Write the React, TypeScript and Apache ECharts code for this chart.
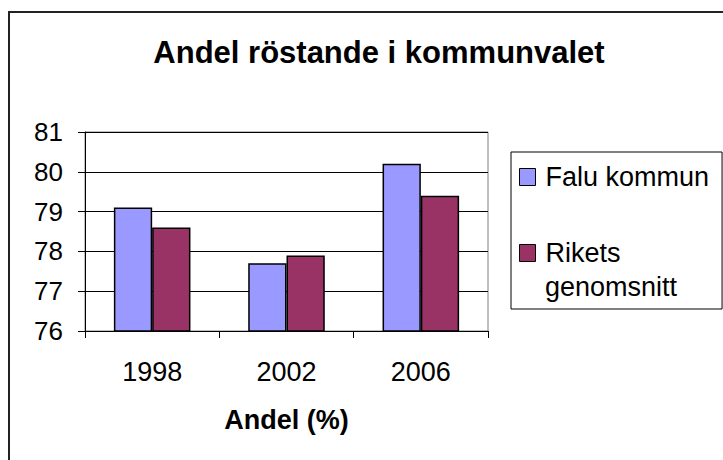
import React, { useEffect, useRef } from "react";
import * as echarts from "echarts";

const categories = ["1998", "2002", "2006"];
const faluKommun = [79.1, 77.7, 80.2];
const riketsGenomsnitt = [78.6, 77.9, 79.4];
const yMin = 76;
const yMax = 81;
const yStep = 1;
const titleText = "Andel röstande i kommunvalet";
const xAxisName = "Andel (%)";
const seriesNames = ["Falu kommun", "Rikets genomsnitt"];
const legendLines = ["Rikets", "genomsnitt"];

const FONT = "'Liberation Sans', Arial, Helvetica, sans-serif";

export default function App() {
  const ref = useRef<HTMLDivElement>(null);
  useEffect(() => {
    if (!ref.current) return;
    const chart = echarts.init(ref.current, null, { renderer: "svg" });
    chart.setOption({
      animation: false,
      backgroundColor: "#fff",
      textStyle: { fontFamily: FONT },
      title: {
        text: titleText,
        left: 374,
        top: 32,
        textAlign: "center",
        textStyle: { fontSize: 31, fontWeight: "bold", color: "#000", fontFamily: FONT },
      },
      graphic: [
        {
          type: "rect",
          shape: { x: 9, y: 12, width: 900, height: 900 },
          style: { fill: "none", stroke: "#222", lineWidth: 2 },
          silent: true,
          z: 100,
        },
        {
          type: "text",
          x: 545,
          y: 287,
          style: {
            text: legendLines[1],
            font: `27px ${FONT}`,
            fill: "#000",
            verticalAlign: "middle",
            align: "left",
          },
          silent: true,
          z: 100,
        },
      ],
      legend: {
        orient: "vertical",
        left: 511,
        top: 152,
        padding: [8, 13, 39, 8],
        borderColor: "#000",
        borderWidth: 1,
        itemWidth: 16,
        itemHeight: 17,
        itemGap: 42,
        icon: "rect",
        itemStyle: { borderColor: "#000", borderWidth: 1 },
        textStyle: {
          fontSize: 27,
          color: "#000",
          fontFamily: FONT,
          lineHeight: 34,
          padding: [0, 0, 0, 5],
        },
        data: [{ name: seriesNames[0] }, { name: seriesNames[1] }],
        formatter: (n: string) => (n === seriesNames[1] ? legendLines[0] : n),
      },
      grid: {
        left: 85,
        right: 235,
        top: 132,
        bottom: 129,
        show: true,
        borderColor: "#808080",
        borderWidth: 1,
        backgroundColor: "transparent",
      },
      xAxis: {
        type: "category",
        data: categories,
        name: xAxisName,
        nameLocation: "middle",
        nameGap: 75,
        nameTextStyle: { fontSize: 27, fontWeight: "bold", color: "#000", fontFamily: FONT },
        axisLine: { show: true, lineStyle: { color: "#000", width: 1 } },
        axisTick: { show: true, length: 7, alignWithLabel: false, interval: 0, lineStyle: { color: "#000" } },
        axisLabel: { fontSize: 27, color: "#000", margin: 27, fontFamily: FONT },
        splitLine: { show: false },
      },
      yAxis: {
        type: "value",
        min: yMin,
        max: yMax,
        interval: yStep,
        axisLine: { show: true, lineStyle: { color: "#000", width: 1 } },
        axisTick: { show: true, length: 7, lineStyle: { color: "#000" } },
        axisLabel: { fontSize: 26, color: "#000", margin: 22, fontFamily: FONT },
        splitLine: { show: true, lineStyle: { color: "#000", width: 1 } },
      },
      series: [
        {
          name: seriesNames[0],
          type: "bar",
          data: faluKommun,
          barGap: "0%",
          barCategoryGap: "43%",
          itemStyle: { color: "#9999FF", borderColor: "#000", borderWidth: 1.5 },
        },
        {
          name: seriesNames[1],
          type: "bar",
          data: riketsGenomsnitt,
          barGap: "0%",
          barCategoryGap: "43%",
          itemStyle: { color: "#993366", borderColor: "#000", borderWidth: 1.5 },
        },
      ],
    });
    return () => chart.dispose();
  }, []);
  return (
    <div
      ref={ref}
      style={{ position: "fixed", left: 0, top: 0, width: 723, height: 460 }}
    />
  );
}
